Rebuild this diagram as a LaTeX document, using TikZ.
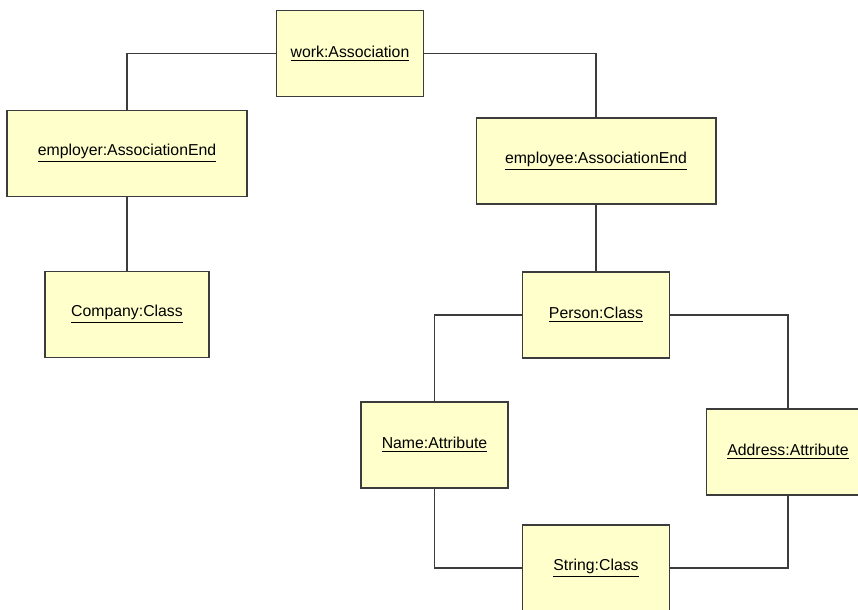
\documentclass[tikz,border=0pt]{standalone}
\usepackage{fontspec}
\setmainfont{Liberation Sans}
\usepackage{tikz}
\usetikzlibrary{positioning}

\definecolor{objfill}{RGB}{255,255,204}
\definecolor{objline}{RGB}{60,60,60}

\begin{document}
\begin{tikzpicture}[x=0.02cm,y=-0.02cm,line width=0.6pt,
	obj node/.style={rectangle,draw=objline,fill=objfill,inner sep=0pt,
		minimum width=2.94cm,minimum height=1.72cm,font=\fontsize{9}{11}\selectfont},
	wide node/.style={obj node,minimum width=4.8cm},
	hv/.style={to path={-| (\tikztotarget)}},
	vh/.style={to path={|- (\tikztotarget)}}]
	
	\useasboundingbox (0,0) rectangle (858,609);
	
	\node[obj node] (work) at (350,53.5) {\underline{work:Association}};
	\node[wide node] (employer) at (127,153.5) {\underline{employer:AssociationEnd}};
	\node[wide node] (employee) at (596,161) {\underline{employee:AssociationEnd}};
	\node[obj node,minimum width=3.28cm] (company) at (127,314.5) {\underline{Company:Class}};
	\node[obj node] (person) at (596,315) {\underline{Person:Class}};
	\node[obj node] (name) at (434.5,445) {\underline{Name:Attribute}};
	\node[obj node,minimum width=3.28cm] (address) at (788,452) {\underline{Address:Attribute}};
	\node[obj node] (string) at (596,568) {\underline{String:Class}};
	
	\path[draw=objline]
	(work) edge [hv] (employer)
	(work) edge [hv] (employee)
	(employer) edge (company)
	(employee) edge (person)
	(person) edge [hv] (name)
	(person) edge [hv] (address)
	(name) edge [vh] (string)
	(address) edge [vh] (string);
\end{tikzpicture}
\end{document}
